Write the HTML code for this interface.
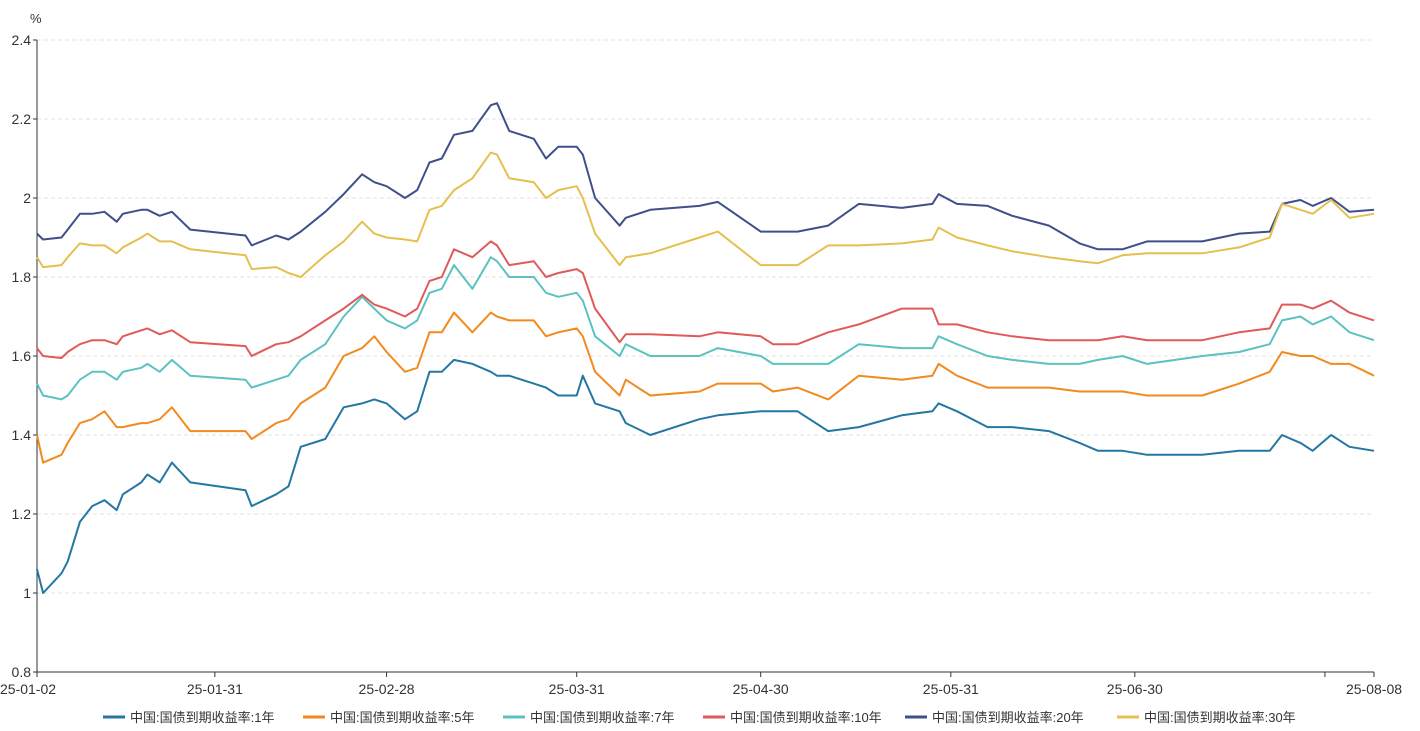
<!DOCTYPE html>
<html><head><meta charset="utf-8">
<style>
html,body{margin:0;padding:0;background:#fff;}
svg{display:block;font-family:"Liberation Sans","Noto Sans CJK SC",sans-serif;}
</style></head>
<body>
<svg id="chart" width="1420" height="731" viewBox="0 0 1420 731" xmlns="http://www.w3.org/2000/svg"></svg>
<script>
const days = [0,1,4,5,7,9,11,13,14,17,18,20,22,25,34,35,39,41,43,47,50,53,55,57,60,62,64,66,68,71,74,75,77,81,83,85,88,89,91,95,96,100,108,111,118,120,124,129,134,141,146,147,150,155,159,165,170,173,177,181,190,196,201,203,206,208,211,214,218];
const y1 = [1.06,1.00,1.05,1.08,1.18,1.22,1.235,1.21,1.25,1.28,1.30,1.28,1.33,1.28,1.26,1.22,1.25,1.27,1.37,1.39,1.47,1.48,1.49,1.48,1.44,1.46,1.56,1.56,1.59,1.58,1.56,1.55,1.55,1.53,1.52,1.50,1.50,1.55,1.48,1.46,1.43,1.40,1.44,1.45,1.46,1.46,1.46,1.41,1.42,1.45,1.46,1.48,1.46,1.42,1.42,1.41,1.38,1.36,1.36,1.35,1.35,1.36,1.36,1.40,1.38,1.36,1.40,1.37,1.36];
const y5 = [1.40,1.33,1.35,1.38,1.43,1.44,1.46,1.42,1.42,1.43,1.43,1.44,1.47,1.41,1.41,1.39,1.43,1.44,1.48,1.52,1.60,1.62,1.65,1.61,1.56,1.57,1.66,1.66,1.71,1.66,1.71,1.70,1.69,1.69,1.65,1.66,1.67,1.65,1.56,1.50,1.54,1.50,1.51,1.53,1.53,1.51,1.52,1.49,1.55,1.54,1.55,1.58,1.55,1.52,1.52,1.52,1.51,1.51,1.51,1.50,1.50,1.53,1.56,1.61,1.60,1.60,1.58,1.58,1.55];
const y7 = [1.53,1.50,1.49,1.50,1.54,1.56,1.56,1.54,1.56,1.57,1.58,1.56,1.59,1.55,1.54,1.52,1.54,1.55,1.59,1.63,1.70,1.75,1.72,1.69,1.67,1.69,1.76,1.77,1.83,1.77,1.85,1.84,1.80,1.80,1.76,1.75,1.76,1.74,1.65,1.60,1.63,1.60,1.60,1.62,1.60,1.58,1.58,1.58,1.63,1.62,1.62,1.65,1.63,1.60,1.59,1.58,1.58,1.59,1.60,1.58,1.60,1.61,1.63,1.69,1.70,1.68,1.70,1.66,1.64];
const y10 = [1.62,1.60,1.595,1.61,1.63,1.64,1.64,1.63,1.65,1.665,1.67,1.655,1.665,1.635,1.625,1.60,1.63,1.635,1.65,1.69,1.72,1.755,1.73,1.72,1.70,1.72,1.79,1.80,1.87,1.85,1.89,1.88,1.83,1.84,1.80,1.81,1.82,1.81,1.72,1.635,1.655,1.655,1.65,1.66,1.65,1.63,1.63,1.66,1.68,1.72,1.72,1.68,1.68,1.66,1.65,1.64,1.64,1.64,1.65,1.64,1.64,1.66,1.67,1.73,1.73,1.72,1.74,1.71,1.69];
const y20 = [1.91,1.895,1.90,1.92,1.96,1.96,1.965,1.94,1.96,1.97,1.97,1.955,1.965,1.92,1.905,1.88,1.905,1.895,1.915,1.965,2.01,2.06,2.04,2.03,2.00,2.02,2.09,2.10,2.16,2.17,2.235,2.24,2.17,2.15,2.10,2.13,2.13,2.11,2.00,1.93,1.95,1.97,1.98,1.99,1.915,1.915,1.915,1.93,1.985,1.975,1.985,2.01,1.985,1.98,1.955,1.93,1.885,1.87,1.87,1.89,1.89,1.91,1.915,1.985,1.995,1.98,2.00,1.965,1.97];
const y30 = [1.85,1.825,1.83,1.85,1.885,1.88,1.88,1.86,1.875,1.90,1.91,1.89,1.89,1.87,1.855,1.82,1.825,1.81,1.80,1.855,1.89,1.94,1.91,1.90,1.895,1.89,1.97,1.98,2.02,2.05,2.115,2.11,2.05,2.04,2.00,2.02,2.03,2.00,1.91,1.83,1.85,1.86,1.90,1.915,1.83,1.83,1.83,1.88,1.88,1.885,1.895,1.925,1.90,1.88,1.865,1.85,1.84,1.835,1.855,1.86,1.86,1.875,1.90,1.985,1.97,1.96,1.995,1.95,1.96];
const yTicks = [0.8,1,1.2,1.4,1.6,1.8,2,2.2,2.4];
const yTickLabels = ["0.8","1","1.2","1.4","1.6","1.8","2","2.2","2.4"];
const xTickDays = [0,29,57,88,118,149,179,218];
const xTickLabels = ["25-01-02","25-01-31","25-02-28","25-03-31","25-04-30","25-05-31","25-06-30","25-08-08"];
const seriesNames = ["中国:国债到期收益率:1年","中国:国债到期收益率:5年","中国:国债到期收益率:7年","中国:国债到期收益率:10年","中国:国债到期收益率:20年","中国:国债到期收益率:30年"];
const seriesData = [y1,y5,y7,y10,y20,y30];
const colors = ["#2477a3","#f28a1e","#5bc2c0","#e15a5a","#3f4f8a","#e5c04f"];

const X0=37,X1=1374,Y0=672,Y1=40,D0=0,D1=218,V0=0.8,V1=2.4;
const xs=d=>X0+(d-D0)/(D1-D0)*(X1-X0);
const ys=v=>Y0-(v-V0)/(V1-V0)*(Y0-Y1);
const svg=document.getElementById('chart');
const NS='http://www.w3.org/2000/svg';
function mk(tag,attrs){const e=document.createElementNS(NS,tag);for(const k in attrs)e.setAttribute(k,attrs[k]);svg.appendChild(e);return e;}

yTicks.forEach((v,i)=>{
  if(i>0){const g=mk('line',{x1:X0,x2:X1,y1:ys(v),y2:ys(v),stroke:'#e0e0e0','stroke-dasharray':'4,3'});
  
  }
  const tk=mk('line',{x1:X0-4,x2:X0,y1:ys(v),y2:ys(v),stroke:'#333'});
  
  
  const t=mk('text',{x:X0-6,y:ys(v)+5,'text-anchor':'end','font-size':14,fill:'#333'});
  t.textContent=yTickLabels[i];
  
  
});
const unit=mk('text',{x:30,y:23,'font-size':13,fill:'#333'});unit.textContent='%';


const ya=mk('line',{x1:X0,x2:X0,y1:Y1,y2:Y0,stroke:'#333'});


const xa=mk('line',{x1:X0,x2:X1,y1:Y0,y2:Y0,stroke:'#333'});


xTickDays.forEach((d,i)=>{
  const tk=mk('line',{x1:xs(d),x2:xs(d),y1:Y0,y2:Y0+5,stroke:'#333'});
  
  
  const t=mk('text',{x:i===0?0:xs(d),y:Y0+22,'text-anchor':i===0?'start':'middle','font-size':14,fill:'#333'});
  t.textContent=xTickLabels[i];
  
  
});
const extra=mk('line',{x1:xs(210),x2:xs(210),y1:Y0,y2:Y0+5,stroke:'#333'});



seriesData.forEach((arr,s)=>{
  const pts=arr.map((v,i)=>xs(days[i]).toFixed(1)+','+ys(v).toFixed(1)).join(' ');
  const p=mk('polyline',{points:pts,fill:'none',stroke:colors[s],'stroke-width':2,'stroke-linejoin':'round'});
  
  
});

const legendX=[103,303,503,703,905,1117];
seriesNames.forEach((n,s)=>{
  const l=mk('line',{x1:legendX[s],x2:legendX[s]+22,y1:717,y2:717,stroke:colors[s],'stroke-width':3});
  
  
  const t=mk('text',{x:legendX[s]+27,y:722,'font-size':13,fill:'#333'});
  t.textContent=n;
  
  
});
</script>
</body></html>
